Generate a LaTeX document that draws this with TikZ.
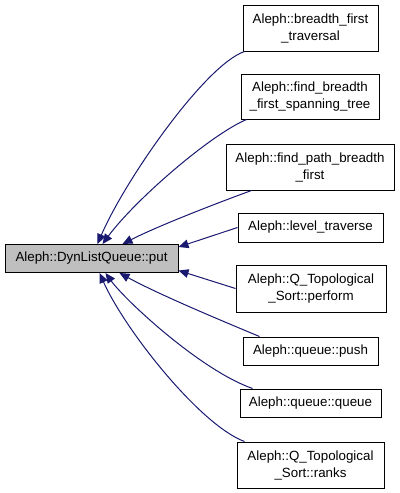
\documentclass[tikz,border=0pt]{standalone}
\usepackage{fontspec}
\setmainfont{Liberation Sans}
\usetikzlibrary{arrows.meta,calc}
\definecolor{edgeblue}{HTML}{191970}
\definecolor{mainfill}{HTML}{BFBFBF}
\tikzset{
  fnbox/.style={draw=black,line width=0.75pt,fill=white,inner sep=0pt,align=center,
    font=\fontsize{10pt}{12.75pt}\selectfont},
  callarrow/.style={draw=edgeblue,line width=0.75pt,-{Triangle[length=7.5pt,width=6.5pt]}}
}
\begin{document}
\begin{tikzpicture}[x=0.75pt,y=-0.75pt]
\useasboundingbox (0,0) rectangle (400,493);
\node[fnbox,fill=mainfill,minimum width=129.75pt,minimum height=21pt] (main) at (91.5,258.5) {Aleph::DynListQueue::put};
\node[fnbox,minimum width=101.25pt,minimum height=34.5pt] (n1) at (310.5,28) {Aleph::breadth\_first\\\_traversal};
\node[fnbox,minimum width=103.5pt,minimum height=33.75pt] (n2) at (310,96.5) {Aleph::find\_breadth\\\_first\_spanning\_tree};
\node[fnbox,minimum width=126pt,minimum height=34.5pt] (n3) at (310,167) {Aleph::find\_path\_breadth\\\_first};
\node[fnbox,minimum width=108.75pt,minimum height=21.75pt] (n4) at (310.5,227.5) {Aleph::level\_traverse};
\node[fnbox,minimum width=112.5pt,minimum height=35.25pt] (n5) at (311,288.5) {Aleph::Q\_Topological\\\_Sort::perform};
\node[fnbox,minimum width=101.25pt,minimum height=21pt] (n6) at (310.5,351) {Aleph::queue::push};
\node[fnbox,minimum width=105.75pt,minimum height=21pt] (n7) at (310.5,403) {Aleph::queue::queue};
\node[fnbox,minimum width=110.25pt,minimum height=34.5pt] (n8) at (310.5,465) {Aleph::Q\_Topological\\\_Sort::ranks};

\draw[callarrow] ($(n1.south west)+(2,0)$) .. controls (205,65) and (125,180) .. ($(main.north west)+(93,0)$);
\draw[callarrow] ($(n2.south west)+(6,0)$) .. controls (210,135) and (135,200) .. ($(main.north west)+(98,0)$);
\draw[callarrow] ($(n3.south west)+(26,0)$) .. controls (220,202) and (160,225) .. ($(main.north west)+(118,0)$);
\draw[callarrow] (n4.west) -- ($(main.east)+(0,-11.5)$);
\draw[callarrow] (n5.west) -- ($(main.east)+(0,12)$);
\draw[callarrow] ($(n6.north west)+(17,0)$) .. controls (220,320) and (160,295) .. ($(main.south west)+(115,0)$);
\draw[callarrow] ($(n7.north west)+(13,0)$) .. controls (200,370) and (125,300) .. ($(main.south west)+(101,0)$);
\draw[callarrow] ($(n8.north west)+(8,0)$) .. controls (200,425) and (125,330) .. ($(main.south west)+(95,0)$);
\end{tikzpicture}
\end{document}
